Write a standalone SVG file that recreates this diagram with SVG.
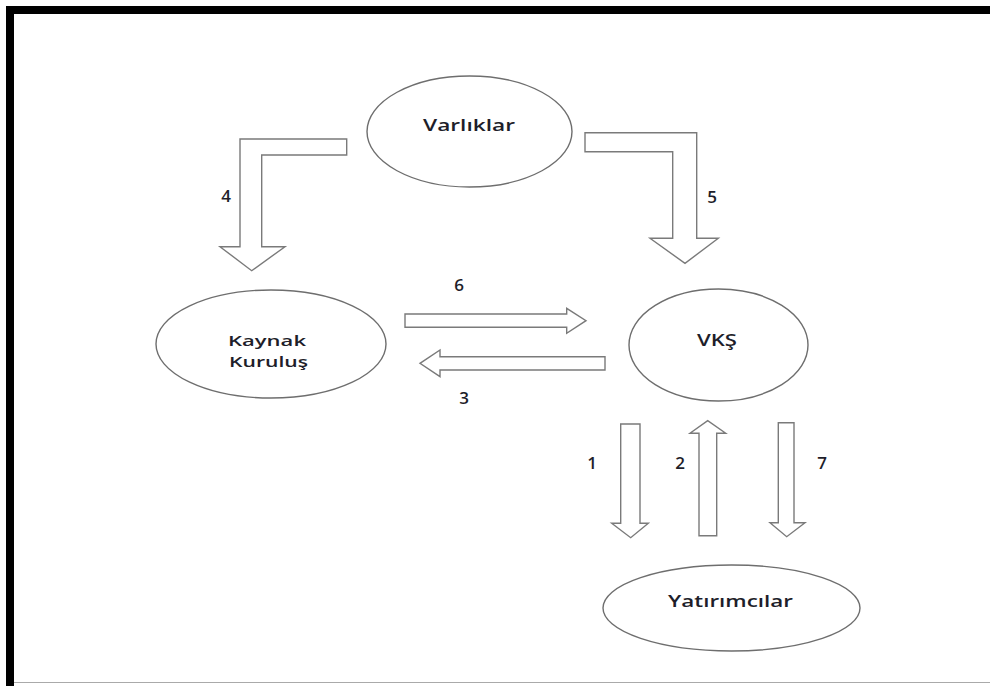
<svg xmlns="http://www.w3.org/2000/svg" width="990" height="686" viewBox="0 0 990 686">
<style>
.node ellipse{fill:#fff;stroke:#6e6e6e;stroke-width:1.4}
.lbl{font-family:"Open Sans","Liberation Sans",sans-serif;font-weight:600;font-size:17px;fill:#1e1e2a;text-anchor:middle}
.lbl2{font-family:"Open Sans","Liberation Sans",sans-serif;font-weight:600;font-size:15px;fill:#1e1e2a;text-anchor:middle}
.num{font-family:"Open Sans","Liberation Sans",sans-serif;font-weight:600;font-size:17px;fill:#1e1e2a;text-anchor:middle}
.arr{fill:#fff;stroke:#7a7a7a;stroke-width:1.4;stroke-linejoin:miter}
</style>
<rect width="990" height="686" fill="#fff"/>
<g id="frame">
<rect x="6" y="6" width="984" height="8" fill="#000"/>
<rect x="6" y="6" width="8" height="680" fill="#000"/>
<line x1="14" y1="682.5" x2="990" y2="682.5" stroke="#aaa" stroke-width="1"/>
</g>
<g id="connectors">
<polygon class="arr" points="346.7,139 240,139 240,246.7 220,246.7 251.7,270.7 285,246.7 261.7,246.7 261.7,155 346.7,155"/>
<polygon class="arr" points="585,132.7 696.7,132.7 696.7,238.3 718.3,238.3 685,263.3 650,238.3 672.7,238.3 672.7,151.7 585,151.7"/>
<polygon class="arr" points="405,314 566.7,314 566.7,308.3 586,320.7 566.7,333.3 566.7,327.3 405,327.3"/>
<polygon class="arr" points="605,356.7 440,356.7 440,350 420,363.3 440,376.7 440,370 605,370"/>
<polygon class="arr" points="620.7,424 640,424 640,523.3 648.3,523.3 630.7,537.7 611.7,523.3 620.7,523.3"/>
<polygon class="arr" points="699,535.7 716.7,535.7 716.7,433.3 725.7,433.3 707.7,420.7 690,433.3 699,433.3"/>
<polygon class="arr" points="778.3,422.7 794,422.7 794,522.7 805,522.7 786.7,536.7 770,522.7 778.3,522.7"/>
<text class="num" x="226" y="202">4</text>
<text class="num" x="712" y="203">5</text>
<text class="num" x="459" y="291">6</text>
<text class="num" x="464" y="404">3</text>
<text class="num" x="592" y="469">1</text>
<text class="num" x="680" y="469">2</text>
<text class="num" x="822" y="469">7</text>
</g>
<g id="varliklar" class="node">
<ellipse cx="469.5" cy="131.5" rx="102.5" ry="55.5"/>
<text class="lbl" x="469" y="131" textLength="92" lengthAdjust="spacingAndGlyphs">Varlıklar</text>
</g>
<g id="kaynak" class="node">
<ellipse cx="271" cy="344" rx="115" ry="54"/>
<text class="lbl2" x="267" y="346" textLength="78" lengthAdjust="spacingAndGlyphs">Kaynak</text>
<text class="lbl2" x="268.5" y="367" textLength="79" lengthAdjust="spacingAndGlyphs">Kuruluş</text>
</g>
<g id="vks" class="node">
<ellipse cx="718.5" cy="345" rx="89.5" ry="56"/>
<text class="lbl" x="717" y="346" textLength="40" lengthAdjust="spacingAndGlyphs">VKŞ</text>
</g>
<g id="yatirimcilar" class="node">
<ellipse cx="731.5" cy="608" rx="128.5" ry="43"/>
<text class="lbl" x="730.5" y="607" textLength="125" lengthAdjust="spacingAndGlyphs">Yatırımcılar</text>
</g>
</svg>
